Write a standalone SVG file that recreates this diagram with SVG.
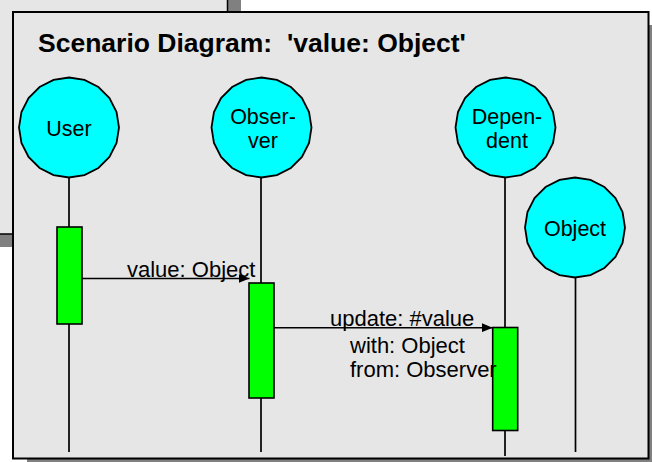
<svg xmlns="http://www.w3.org/2000/svg" xmlns:xlink="http://www.w3.org/1999/xlink" width="652" height="462" viewBox="0 0 652 462">
  <style>
    .win { fill: #e6e6e6; stroke: #000; stroke-width: 2; }
    .shadow { fill: #808080; }
    .head { fill: #00ffff; stroke: #000; stroke-width: 1.8; }
    .life { stroke: #000; stroke-width: 1.7; fill: none; }
    .act { fill: #00ff00; stroke: #000; stroke-width: 1.6; }
    .msg { stroke: #000; stroke-width: 1.6; fill: none; marker-end: url(#arrow); }
    .title { font-family: "Liberation Sans", Arial, sans-serif; font-weight: bold; font-size: 26.5px; fill: #000; white-space: pre; }
    .name { font-family: "Liberation Sans", Arial, sans-serif; font-size: 21.5px; fill: #000; text-anchor: middle; }
    .lbl { font-family: "Liberation Sans", Arial, sans-serif; font-size: 22px; fill: #000; }
  </style>
  <defs>
    <!-- faceted "circle" used for every object head, centred on 0,0 -->
    <polygon id="objHead" points="0,-50 15.45,-47.55 29.39,-40.45 40.45,-29.39 47.55,-15.45 50,0 47.55,15.45 40.45,29.39 29.39,40.45 15.45,47.55 0,50 -15.45,47.55 -29.39,40.45 -40.45,29.39 -47.55,15.45 -50,0 -47.55,-15.45 -40.45,-29.39 -29.39,-40.45 -15.45,-47.55"/>
    <marker id="arrow" markerUnits="userSpaceOnUse" markerWidth="11" markerHeight="9" refX="11" refY="4.5" orient="auto">
      <path d="M0,0 L11,4.5 L0,9 z" fill="#000"/>
    </marker>
  </defs>

  <!-- white page -->
  <rect x="0" y="0" width="652" height="462" fill="#ffffff"/>

  <!-- window lying behind (top-left) -->
  <g id="backWindow">
    <rect class="shadow" x="-20" y="-20" width="261" height="267"/>
    <rect x="-20" y="-20" width="247.5" height="254" fill="#e6e6e6" stroke="#000" stroke-width="1.5"/>
  </g>

  <!-- main diagram window -->
  <g id="frame">
    <rect class="shadow" x="27" y="25" width="640" height="450"/>
    <rect class="win" x="13" y="12" width="635.5" height="446.5"/>
    <text class="title" x="38" y="52">Scenario Diagram:  'value: Object'</text>
  </g>

  <!-- lifelines and message arrows -->
  <g id="connectors">
    <path class="life" d="M69,177 V452"/>
    <path class="life" d="M261,177 V452"/>
    <path class="life" d="M505,177 V456"/>
    <path class="life" d="M575.5,277 V452"/>
    <path class="msg" d="M82,278.5 H249.5"/>
    <path class="msg" d="M274,327.7 H492.7"/>
  </g>

  <g id="user">
    <use xlink:href="#objHead" href="#objHead" class="head" x="69" y="127.5"/>
    <text class="name" x="69" y="136">User</text>
    <rect class="act" x="57" y="227" width="25" height="97"/>
  </g>

  <g id="observer">
    <use xlink:href="#objHead" href="#objHead" class="head" x="261.5" y="127.5"/>
    <text class="name" x="263" y="124">Obser-</text>
    <text class="name" x="263" y="148">ver</text>
    <rect class="act" x="249" y="283" width="25" height="115"/>
  </g>

  <g id="dependent">
    <use xlink:href="#objHead" href="#objHead" class="head" x="505.5" y="127.5"/>
    <text class="name" x="507" y="124">Depen-</text>
    <text class="name" x="507" y="148">dent</text>
    <rect class="act" x="492.7" y="327.5" width="25" height="103"/>
  </g>

  <g id="object">
    <use xlink:href="#objHead" href="#objHead" class="head" x="575" y="227.5"/>
    <text class="name" x="575" y="236">Object</text>
  </g>

  <!-- message labels -->
  <g id="labels">
    <text class="lbl" x="127" y="277">value: Object</text>
    <text class="lbl" x="330" y="326">update: #value</text>
    <text class="lbl" x="350" y="353">with: Object</text>
    <text class="lbl" x="350" y="377">from: Observer</text>
  </g>
</svg>
